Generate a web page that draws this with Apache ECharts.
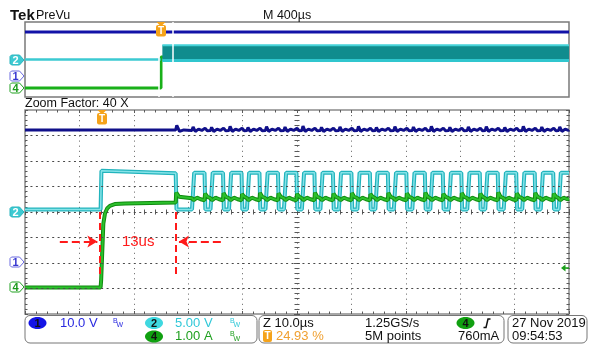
<!DOCTYPE html>
<html>
<head>
<meta charset="utf-8">
<script src="https://cdn.jsdelivr.net/npm/echarts@6/dist/echarts.min.js"></script>
<style>
html, body { margin: 0; padding: 0; background: #fff; }
#scope { width: 594px; height: 354px; }
</style>
</head>
<body>
<div id="scope"></div>
<script>
// channel scales, per division
const ch1Scale = 10;   // V
const ch2Scale = 5;    // V
const ch4Scale = 1;    // A
// ground markers, divisions from screen centre
const mainOff = { ch1: -1.96, ch2: 0, ch4: -2.96 };
const ovOff = { ch1: -1.76, ch2: 0, ch4: -3.04 };

// overview (PreVu), time in µs, 400µs/div
const ovStep = 1000;
const ovTrig = 998;
const ovWindow = [983, 1083];
const ovBlue = 47;
const ovCyanBase = 0;
const ovBandLow = -0.9;
const ovBandHigh = 7.6;
const ovGreenHigh = 3.3;

// zoomed window, time in µs, 10µs/div
const trigTime = 14.2;
const stepTime = 13.9;
const firstFall = 27.7;
const cyanBase = 0.5;
const cyanLow = 0.5;
const cyanHigh = 7.7;
const firstPulseTop = [8.1, 7.6];
const riseStarts = [30.7, 34.1, 37.5, 40.8, 44.2, 47.6, 50.9, 54.3, 57.7, 61.1, 64.4,
                    67.8, 71.2, 74.5, 77.9, 81.3, 84.6, 88.0, 91.4, 94.8, 98.1];
const fallTimes = [33.0, 36.4, 39.8, 43.1, 46.5, 49.9, 53.2, 56.6, 60.0, 63.4, 66.7,
                   70.1, 73.5, 76.8, 80.2, 83.6, 86.9, 90.3, 93.7, 97.1];
// current: rise after the step, then ripple peaks at each switch-off
const greenStep = [[13.9, 0], [14.0, 0.3], [14.4, 2.5], [14.7, 2.9], [15.1, 3.1],
                   [15.6, 3.2], [16.5, 3.27], [18.4, 3.29], [27.7, 3.33]];
const greenFirstPeak = 3.72;
const greenPeaks = [3.68, 3.70, 3.66, 3.71, 3.69, 3.67, 3.72, 3.68, 3.70, 3.66,
                    3.71, 3.69, 3.72, 3.67, 3.70, 3.68, 3.73, 3.69, 3.71, 3.68];
const busLevel = 51.8;
const busFirstPeak = 53.6;
const busPeaks = [53.0, 52.8, 53.2, 52.7, 53.1, 52.9, 53.3, 52.8, 53.0, 53.2, 52.7,
                  53.1, 52.9, 53.2, 52.8, 53.0, 53.1, 52.7, 53.2, 52.9, 53.0];
const trigLevelA = 0.76;

// graticule rows, divisions from centre
const gratRows = [-3, -2, -1, 0, 1, 2, 3];

// annotation
const noteY = -1.16;
const noteLeft = [6.4, 13.3];
const noteRight = [36.0, 28.3];

const FONT = '"Liberation Sans", Arial, sans-serif';

function d1(v, off) { return off + v / ch1Scale; }
function d2(v, off) { return off + v / ch2Scale; }
function d4(v, off) { return off + v / ch4Scale; }

// ---- zoom window traces ----
let cyan = [[0, cyanBase], [stepTime, cyanBase], [stepTime + 0.15, firstPulseTop[0]],
            [firstFall, firstPulseTop[1]], [firstFall + 0.15, cyanLow]];
riseStarts.forEach((r, i) => {
  cyan.push([r, cyanLow], [r + 0.4, cyanHigh]);
  if (i < fallTimes.length) cyan.push([fallTimes[i], cyanHigh], [fallTimes[i] + 0.15, cyanLow]);
  else cyan.push([100, cyanHigh]);
});

let green = [[0, 0]].concat(greenStep);
green.push([firstFall + 0.1, greenFirstPeak], [firstFall + 0.6, 3.56]);
riseStarts.forEach((r, i) => {
  green.push([r, 3.50], [r + 0.3, 3.42], [r + 0.9, 3.52], [r + 1.6, 3.46]);
  if (i < fallTimes.length) {
    const f = fallTimes[i];
    green.push([f, 3.42], [f + 0.1, greenPeaks[i]], [f + 0.5, 3.56]);
  } else green.push([100, 3.48]);
});

let blue = [[0, busLevel], [firstFall, busLevel], [firstFall + 0.2, busFirstPeak], [firstFall + 0.7, 51.2], [firstFall + 1.5, busLevel]];
riseStarts.forEach((r, i) => {
  blue.push([r, 51.6], [r + 0.2, busPeaks[i]], [r + 0.6, 51.2], [r + 1.2, 52.1], [r + 1.8, 51.6]);
  if (i < fallTimes.length) {
    const f = fallTimes[i];
    blue.push([f + 0.1, 52.5], [f + 0.5, 51.5]);
  } else blue.push([100, 51.8]);
});

const cyanDiv = cyan.map(p => [p[0], d2(p[1], mainOff.ch2)]);
const greenDiv = green.map(p => [p[0], d4(p[1], mainOff.ch4)]);
const blueDiv = blue.map(p => [p[0], d1(p[1], mainOff.ch1)]);

const gridGray = '#8a8a8a';
const tickGray = '#5a5a5a';
const dotGray = '#5e5e5e';

function tickAxis(grid, extra) {
  return Object.assign({
    type: 'value', gridIndex: grid,
    axisLine: { show: false, onZero: false },
    axisLabel: { show: false },
    axisTick: { show: true, inside: true, length: 3, lineStyle: { color: tickGray } },
    minorTick: { show: true, splitNumber: 5, length: 2.5, lineStyle: { color: tickGray } },
    splitLine: { show: false }
  }, extra);
}
function hiddenAxis(grid) {
  return { type: 'value', gridIndex: grid, min: 0, max: 1, show: false, axisLine: { onZero: false } };
}

const xRange = { min: 0, max: 100, interval: 10 };
const yRange = { min: -4, max: 4, interval: 1 };
const mainBox = { left: 25, top: 110, width: 544, height: 204 };

const option = {
  animation: false,
  backgroundColor: '#fff',
  grid: [
    { left: 25, top: 22, width: 544, height: 75, show: true, borderColor: '#7a7a7a', borderWidth: 1.5 },
    Object.assign({ show: true, borderColor: gridGray, borderWidth: 1.5 }, mainBox),
    // half-screen grids whose inner edges carry the centre cross ticks
    { left: 25, top: 110, width: 544, height: 102 },
    { left: 25, top: 212, width: 544, height: 102 },
    { left: 25, top: 110, width: 272, height: 204 },
    { left: 297, top: 110, width: 272, height: 204 }
  ],
  xAxis: [
    { type: 'value', gridIndex: 0, min: 0, max: 4000, show: false },
    tickAxis(1, Object.assign({ position: 'bottom',
      splitLine: { show: true, lineStyle: { color: dotGray, width: 1, type: [1, 4.1] } } }, xRange)),
    tickAxis(1, Object.assign({ position: 'top' }, xRange)),
    tickAxis(2, Object.assign({ position: 'bottom' }, xRange)),
    tickAxis(3, Object.assign({ position: 'top' }, xRange)),
    hiddenAxis(4),
    hiddenAxis(5)
  ],
  yAxis: [
    { type: 'value', gridIndex: 0, min: -4, max: 4, show: false },
    tickAxis(1, Object.assign({ position: 'left' }, yRange)),
    tickAxis(1, Object.assign({ position: 'right' }, yRange)),
    hiddenAxis(2),
    hiddenAxis(3),
    tickAxis(4, Object.assign({ position: 'right' }, yRange)),
    tickAxis(5, Object.assign({ position: 'left' }, yRange))
  ],
  series: [
    // graticule rows (dotted), drawn as horizontal mark lines
    { type: 'line', xAxisIndex: 1, yAxisIndex: 1, symbol: 'none', z: 1, data: [],
      markLine: { silent: true, symbol: 'none', animation: false, label: { show: false },
        lineStyle: { color: '#4a4a4a', width: 1, type: [2, 3.44] },
        data: gratRows.map(r => ({ yAxis: r })) } },
    // overview
    { type: 'line', xAxisIndex: 0, yAxisIndex: 0, symbol: 'none', z: 2,
      data: [[0, d1(ovBlue, ovOff.ch1)], [4000, d1(ovBlue, ovOff.ch1)]],
      lineStyle: { color: '#1212a8', width: 3 } },
    { type: 'line', xAxisIndex: 0, yAxisIndex: 0, symbol: 'none', z: 2,
      data: [[0, d4(0, ovOff.ch4)], [ovStep, d4(0, ovOff.ch4)], [ovStep, d4(ovGreenHigh, ovOff.ch4)], [4000, d4(ovGreenHigh, ovOff.ch4)]],
      lineStyle: { color: '#19b019', width: 3 } },
    { type: 'line', xAxisIndex: 0, yAxisIndex: 0, symbol: 'none', z: 3,
      data: [[0, d2(ovCyanBase, ovOff.ch2)], [ovStep - 2, d2(ovCyanBase, ovOff.ch2)]],
      lineStyle: { color: '#3ccad2', width: 2.5 } },
    { type: 'line', xAxisIndex: 0, yAxisIndex: 0, symbol: 'none', z: 3,
      data: [[ovStep + 10, d2(ovBandHigh, ovOff.ch2)], [4000, d2(ovBandHigh, ovOff.ch2)]],
      lineStyle: { color: '#45d2d8', width: 2 },
      areaStyle: { color: '#108c8e', opacity: 1, origin: d2(ovBandLow, ovOff.ch2) } },
    { type: 'line', xAxisIndex: 0, yAxisIndex: 0, symbol: 'none', z: 3,
      data: [[ovStep + 10, d2(ovBandLow + 0.4, ovOff.ch2)], [4000, d2(ovBandLow + 0.4, ovOff.ch2)]],
      lineStyle: { color: '#30c6ce', width: 3 },
      markLine: { silent: true, symbol: 'none', animation: false, label: { show: false },
        lineStyle: { color: '#fff', width: 1.5, type: 'solid' },
        data: ovWindow.map(t => ({ xAxis: t })) } },
    // zoom window
    { type: 'line', xAxisIndex: 1, yAxisIndex: 1, symbol: 'none', z: 3, data: blueDiv,
      lineStyle: { color: '#10108a', width: 3 } },
    { type: 'line', xAxisIndex: 1, yAxisIndex: 1, symbol: 'none', z: 3, data: cyanDiv,
      lineStyle: { color: '#22b4bd', width: 4 } },
    { type: 'line', xAxisIndex: 1, yAxisIndex: 1, symbol: 'none', z: 3, data: cyanDiv,
      lineStyle: { color: '#86e3e8', width: 1.5 } },
    { type: 'line', xAxisIndex: 1, yAxisIndex: 1, symbol: 'none', z: 4, data: greenDiv,
      lineStyle: { color: '#0f8a0f', width: 4 } },
    { type: 'line', xAxisIndex: 1, yAxisIndex: 1, symbol: 'none', z: 4, data: greenDiv,
      lineStyle: { color: '#2cc02c', width: 2 } },
    // red annotation
    { type: 'line', xAxisIndex: 1, yAxisIndex: 1, symbol: 'none', z: 6, data: [],
      markLine: { silent: true, animation: false, label: { show: false },
        lineStyle: { color: '#ff1a1a', width: 2 },
        data: [
          [{ coord: [stepTime - 0.1, 0], symbol: 'none', lineStyle: { type: [7, 4] } },
           { coord: [stepTime - 0.1, -2.46], symbol: 'none' }],
          [{ coord: [firstFall, 0], symbol: 'none', lineStyle: { type: [7, 4] } },
           { coord: [firstFall, -2.46], symbol: 'none' }],
          [{ coord: [noteLeft[0], noteY], symbol: 'none' }, { coord: [noteLeft[1], noteY], symbol: 'arrow', symbolSize: [9, 10] }],
          [{ coord: [noteRight[0], noteY], symbol: 'none' }, { coord: [noteRight[1], noteY], symbol: 'arrow', symbolSize: [9, 10] }]
        ] },
      markPoint: { silent: true, animation: false,
        data: [{ coord: [20.8, noteY], symbol: 'rect', symbolSize: 1, itemStyle: { color: 'transparent' },
          label: { show: true, position: 'inside', formatter: '13us', color: '#ff1a1a', fontSize: 15, fontFamily: FONT } }] } }
  ]
};

const chart = echarts.init(document.getElementById('scope'));
chart.setOption(option);

function px(g, x, y) { return chart.convertToPixel({ gridIndex: g }, [x, y]); }

// graphic groups do not pass z on to children, so set it on each one
function grp(x, y, children) {
  children.forEach(c => { c.z = 30; });
  return { type: 'group', x: x, y: y, children: children };
}
function chMarker(label, y, fill, stroke, textColor) {
  return grp(10, Math.round(y) - 5, [
    { type: 'polygon', shape: { points: [[0, 1.5], [1.5, 0], [9.5, 0], [14, 5], [9.5, 10], [1.5, 10], [0, 8.5]] },
      style: { fill: fill, stroke: stroke, lineWidth: 1 } },
    { type: 'text', x: 5.5, y: 5.5, style: { text: label, fill: textColor, font: 'bold 11px ' + FONT, align: 'center', verticalAlign: 'middle' } }
  ]);
}
function trigMarker(x, y) {
  return grp(Math.round(x) - 5, y, [
    { type: 'polygon', shape: { points: [[0.5, 0], [9.5, 0], [5, 4.5]] }, style: { fill: '#f5a31a' } },
    { type: 'rect', shape: { x: 0, y: 3, width: 10, height: 11.5, r: 2 }, style: { fill: '#f5a31a' } },
    { type: 'text', x: 5, y: 9, style: { text: 'T', fill: '#fff', font: 'bold 10px ' + FONT, align: 'center', verticalAlign: 'middle' } }
  ]);
}
function txt(x, y, s, color, font) {
  return { type: 'text', x: x, y: y, z: 30,
    style: { text: s, fill: color, font: font || ('13px ' + FONT), verticalAlign: 'middle' } };
}
function badge(cx, cy, s, fill) {
  return grp(cx, cy, [
    { type: 'ellipse', shape: { cx: 0, cy: 0, rx: 9, ry: 6 }, style: { fill: fill } },
    { type: 'text', x: 0, y: 0.5, style: { text: s, fill: '#111', font: 'bold 11px ' + FONT, align: 'center', verticalAlign: 'middle' } }
  ]);
}
function bwIcon(x, y, color) {
  return grp(x, y, [
    { type: 'text', x: 0, y: -2, style: { text: 'B', fill: color, font: '7px ' + FONT, verticalAlign: 'middle' } },
    { type: 'text', x: 3.5, y: 2.5, style: { text: 'W', fill: color, font: '7px ' + FONT, verticalAlign: 'middle' } }
  ]);
}
function box(x, w) {
  return { type: 'rect', z: 15, shape: { x: x, y: 315.5, width: w, height: 27.5, r: 5 },
    style: { fill: '#fff', stroke: '#777', lineWidth: 1 } };
}

const ovTrigPx = px(0, ovTrig, 0);
const mainTrigPx = px(1, trigTime, 0);
const levelPx = px(1, 100, d4(trigLevelA, mainOff.ch4));

const graphics = [
  txt(10, 16, 'Tek', '#111', 'bold 15px ' + FONT),
  txt(36, 16, 'PreVu', '#111', '12.5px ' + FONT),
  txt(263, 16, 'M 400µs', '#111', '12.5px ' + FONT),
  txt(25, 104, 'Zoom Factor: 40 X', '#111', '12.5px ' + FONT),
  chMarker('2', px(0, 0, ovOff.ch2)[1], '#3ccad2', '#2ab5be', '#fff'),
  chMarker('1', px(0, 0, ovOff.ch1)[1], '#fff', '#6a6ae0', '#3838d0'),
  chMarker('4', px(0, 0, ovOff.ch4)[1], '#fff', '#20a020', '#1a9a1a'),
  chMarker('2', px(1, 0, mainOff.ch2)[1], '#3ccad2', '#2ab5be', '#fff'),
  chMarker('1', px(1, 0, mainOff.ch1)[1], '#fff', '#6a6ae0', '#3838d0'),
  chMarker('4', px(1, 0, mainOff.ch4)[1], '#fff', '#20a020', '#1a9a1a'),
  trigMarker(ovTrigPx[0], 22),
  trigMarker(mainTrigPx[0], 110),
  grp(levelPx[0] - 8, Math.round(levelPx[1]), [
    { type: 'polygon', shape: { points: [[0, 0], [4.5, -3.5], [4.5, 3.5]] }, style: { fill: '#1aa01a' } },
    { type: 'line', shape: { x1: 4, y1: 0, x2: 8, y2: 0 }, style: { stroke: '#1aa01a', lineWidth: 1.5 } }
  ]),
  // status bar
  box(25, 232), box(259, 245), box(508, 79),
  badge(37.5, 323, '1', '#1414e6'),
  txt(60, 323, '10.0 V', '#2a2ae0'),
  bwIcon(113, 323, '#2a2ae0'),
  badge(154, 323, '2', '#3fd8e0'),
  txt(175, 323, '5.00 V', '#30c8d8'),
  bwIcon(230, 323, '#30c8d8'),
  badge(154, 336.5, '4', '#10a010'),
  txt(175, 336.5, '1.00 A', '#1fa01f'),
  bwIcon(230, 336.5, '#1fa01f'),
  txt(263, 323, 'Z 10.0µs', '#111'),
  grp(263, 330, [
    { type: 'rect', shape: { x: 0, y: 0, width: 9, height: 12, r: 2 }, style: { fill: '#f5a31a' } },
    { type: 'text', x: 4.5, y: 6.5, style: { text: 'T', fill: '#fff', font: 'bold 10px ' + FONT, align: 'center', verticalAlign: 'middle' } }
  ]),
  txt(276, 336.5, '24.93 %', '#f0a030'),
  txt(365, 323, '1.25GS/s', '#111'),
  txt(365, 336.5, '5M points', '#111'),
  badge(465.5, 323, '4', '#10a010'),
  { type: 'polyline', z: 30, shape: { points: [[483.5, 327.5], [486, 327.5], [488, 319], [490.5, 319]] },
    style: { stroke: '#111', lineWidth: 1.5, fill: null } },
  txt(458, 336.5, '760mA', '#111'),
  txt(512, 323, '27 Nov 2019', '#111'),
  txt(512, 336.5, '09:54:53', '#111')
];

chart.setOption({ graphic: graphics });
</script>
</body>
</html>
